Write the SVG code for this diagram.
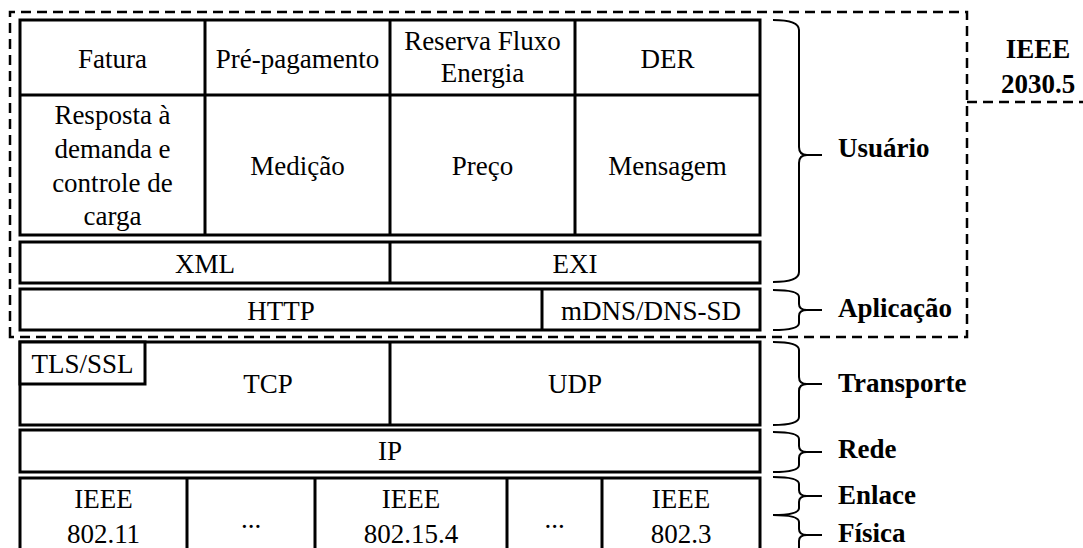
<svg xmlns="http://www.w3.org/2000/svg" width="1083" height="548" viewBox="0 0 1083 548">
<style>
.box{fill:#fff;stroke:#000;stroke-width:3}
.ln{stroke:#000;stroke-width:3;fill:none}
.dash{stroke:#000;stroke-width:2.5;fill:none;stroke-dasharray:10 6}
.br{stroke:#000;stroke-width:2;fill:none}
text{font-family:'Liberation Serif','Times New Roman',Times,'DejaVu Serif',serif;font-size:27px;fill:#000;text-anchor:middle}
.lb{font-weight:bold;text-anchor:start}
.bc{font-weight:bold}
</style>
<rect width="1083" height="548" fill="#fff"/>
<g id="ieee-boundary">
<path class="dash" d="M10,337 V12 H967 V337 Z"/>
<path class="dash" d="M967,102 H1083"/>
<text class="bc" x="1038" y="58">IEEE</text>
<text class="bc" x="1038" y="93">2030.5</text>
</g>
<g id="usuario-grid">
<rect class="box" x="20" y="20" width="740" height="215"/>
<path class="ln" d="M20,95 H760 M205,20 V235 M390,20 V235 M575,20 V235"/>
<text x="112.5" y="68">Fatura</text>
<text x="297.5" y="68">Pré-pagamento</text>
<text x="482.5" y="50">Reserva Fluxo</text>
<text x="482.5" y="82">Energia</text>
<text x="667.5" y="68">DER</text>
<text x="112.5" y="124">Resposta à</text>
<text x="112.5" y="158">demanda e</text>
<text x="112.5" y="192">controle de</text>
<text x="112.5" y="225">carga</text>
<text x="297.5" y="175">Medição</text>
<text x="482.5" y="175">Preço</text>
<text x="667.5" y="175">Mensagem</text>
</g>
<g id="xml-exi">
<rect class="box" x="20" y="242" width="740" height="41"/>
<path class="ln" d="M390,242 V283"/>
<text x="205" y="273">XML</text>
<text x="575" y="273">EXI</text>
</g>
<g id="http-mdns">
<rect class="box" x="20" y="289" width="740" height="41"/>
<path class="ln" d="M542,289 V330"/>
<text x="281" y="320">HTTP</text>
<text x="651" y="320">mDNS/DNS-SD</text>
</g>
<g id="tcp-udp">
<rect class="box" x="20" y="342" width="740" height="83"/>
<path class="ln" d="M390,342 V425"/>
<rect class="box" x="20" y="342" width="125" height="42"/>
<text x="82.5" y="373">TLS/SSL</text>
<text x="268" y="393">TCP</text>
<text x="575" y="393">UDP</text>
</g>
<g id="ip">
<rect class="box" x="20" y="430" width="740" height="42"/>
<text x="390" y="460">IP</text>
</g>
<g id="link-layer">
<rect class="box" x="20" y="478" width="740" height="90"/>
<path class="ln" d="M187,478 V560 M315,478 V560 M507,478 V560 M602,478 V560"/>
<text x="103.5" y="508">IEEE</text>
<text x="103.5" y="543">802.11</text>
<text x="251" y="528">...</text>
<text x="411" y="508">IEEE</text>
<text x="411" y="543">802.15.4</text>
<text x="554.5" y="528">...</text>
<text x="681" y="508">IEEE</text>
<text x="681" y="543">802.3</text>
</g>
<g id="connectors">
<path class="br" d="M773,20 Q799,20 799,30 V147 Q799,155 807,155 H822 M807,155 Q799,155 799,163 V272 Q799,282 773,282"/>
<path class="br" d="M773,290 Q799,290 799,297 V304 Q799,310 807,310 H822 M807,310 Q799,310 799,316 V323 Q799,330 773,330"/>
<path class="br" d="M773,342 Q799,342 799,350 V377 Q799,384 807,384 H822 M807,384 Q799,384 799,391 V417 Q799,425 773,425"/>
<path class="br" d="M773,432 Q799,432 799,439 V446 Q799,452 807,452 H822 M807,452 Q799,452 799,458 V465 Q799,472 773,472"/>
<path class="br" d="M773,477 Q799,477 799,484 V490 Q799,496 807,496 H822 M807,496 Q799,496 799,502 V508 Q799,515 773,515"/>
<path class="br" d="M773,515 Q799,515 799,522 V529 Q799,535 807,535 H822 M807,535 Q799,535 799,541 V560"/>
</g>
<g id="labels">
<text class="lb" x="838" y="157">Usuário</text>
<text class="lb" x="838" y="317">Aplicação</text>
<text class="lb" x="838" y="392">Transporte</text>
<text class="lb" x="838" y="458">Rede</text>
<text class="lb" x="838" y="504">Enlace</text>
<text class="lb" x="838" y="542">Física</text>
</g>
</svg>
